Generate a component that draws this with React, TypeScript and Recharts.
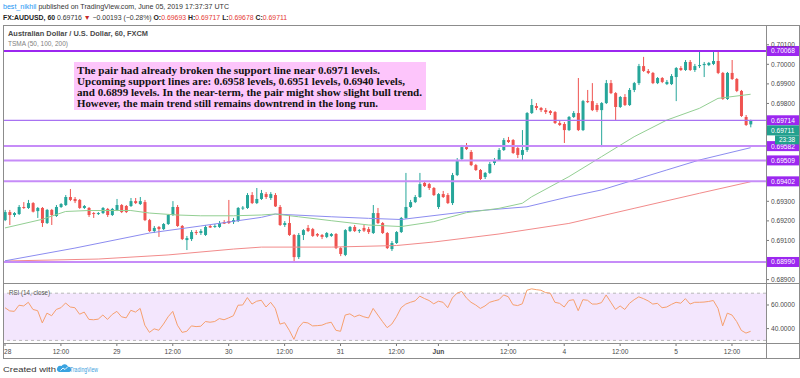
import React from "react";
import { ComposedChart, Bar, Line, XAxis, YAxis, ReferenceLine, ReferenceArea } from "recharts";

// hourly candles, 28 May 00:00 .. 5 Jun 16:00 (weekend gap removed)
const opens = [
  0.69204, 0.69245, 0.6923, 0.69235, 0.69271, 0.69266, 0.69291, 0.6925, 0.69266, 0.69189,
  0.69256, 0.69225, 0.69271, 0.69281, 0.69322, 0.69312, 0.69307, 0.69266, 0.69266, 0.6924,
  0.69235, 0.6924, 0.69261, 0.6923, 0.69256, 0.69281, 0.69276, 0.69276, 0.69301, 0.69286,
  0.69296, 0.69204, 0.69148, 0.69169, 0.69158, 0.69184, 0.6923, 0.69271, 0.69174, 0.69102,
  0.69107, 0.69143, 0.69138, 0.69128, 0.69174, 0.69169, 0.69169, 0.69194, 0.69199, 0.69194,
  0.69199, 0.69263, 0.69266, 0.69332, 0.69291, 0.69312, 0.69337, 0.69317, 0.69332, 0.69271,
  0.69179, 0.69189, 0.69128, 0.69015, 0.69128, 0.69164, 0.69158, 0.69133, 0.69128, 0.69118,
  0.69123, 0.69133, 0.69061, 0.69026, 0.69148, 0.69169, 0.69148, 0.69164, 0.69158, 0.69138,
  0.6924, 0.69189, 0.69138, 0.69056, 0.69087, 0.69143, 0.69215, 0.69271, 0.69296, 0.69322,
  0.69394, 0.69388, 0.69368, 0.69271, 0.69337, 0.69332, 0.69291, 0.69434, 0.69516, 0.69577,
  0.69552, 0.69485, 0.6946, 0.69424, 0.69445, 0.69496, 0.69511, 0.69562, 0.69613, 0.69613,
  0.69572, 0.69537, 0.69562, 0.69751, 0.69787, 0.69777, 0.69766, 0.69761, 0.69756, 0.697,
  0.69695, 0.69664, 0.69731, 0.69751, 0.69664, 0.69812, 0.69812, 0.69792, 0.69766, 0.69802,
  0.69904, 0.69853, 0.69782, 0.69833, 0.69792, 0.69869, 0.69904, 0.69991, 0.69966, 0.69956,
  0.69904, 0.6993, 0.69899, 0.69899, 0.69935, 0.69981, 0.69971, 0.70012, 0.69971, 0.69991,
  0.69996, 0.69996, 0.70002, 0.70017, 0.69956, 0.69823, 0.69956, 0.69925, 0.69864, 0.69731,
  0.69693,
];
const highs = [
  0.69256, 0.69256, 0.69245, 0.69281, 0.69296, 0.69307, 0.69296, 0.69271, 0.69271, 0.69261,
  0.69261, 0.69281, 0.69291, 0.69332, 0.69363, 0.69322, 0.69312, 0.69281, 0.69271, 0.69245,
  0.69245, 0.69271, 0.69266, 0.69266, 0.69312, 0.69286, 0.69281, 0.69317, 0.69317, 0.69322,
  0.69307, 0.6921, 0.69174, 0.69174, 0.69189, 0.69235, 0.69301, 0.69281, 0.69179, 0.69123,
  0.69153, 0.69153, 0.69158, 0.69179, 0.69179, 0.69184, 0.69199, 0.69204, 0.69307, 0.69215,
  0.69271, 0.69276, 0.69342, 0.69347, 0.69368, 0.69358, 0.69347, 0.69347, 0.69342, 0.69281,
  0.69199, 0.6923, 0.69133, 0.69138, 0.69158, 0.69179, 0.69164, 0.69138, 0.69133, 0.69143,
  0.69138, 0.69138, 0.69066, 0.69158, 0.69174, 0.69179, 0.69158, 0.69179, 0.69169, 0.69281,
  0.69266, 0.69194, 0.69143, 0.69097, 0.69148, 0.6922, 0.69445, 0.69307, 0.69332, 0.69445,
  0.69404, 0.69394, 0.69373, 0.69342, 0.69353, 0.69342, 0.69445, 0.69521, 0.69588, 0.69598,
  0.69562, 0.69491, 0.69465, 0.6945, 0.69501, 0.69521, 0.69572, 0.69623, 0.69629, 0.69618,
  0.69582, 0.69664, 0.69756, 0.69823, 0.69802, 0.69782, 0.69777, 0.69766, 0.69761, 0.69715,
  0.69705, 0.69736, 0.69761, 0.6993, 0.69818, 0.69869, 0.69904, 0.69802, 0.69807, 0.6992,
  0.6992, 0.69858, 0.69838, 0.69848, 0.69879, 0.6991, 0.70002, 0.70038, 0.69976, 0.69961,
  0.69935, 0.69935, 0.6992, 0.6995, 0.69986, 0.69991, 0.70022, 0.70022, 0.70002, 0.70068,
  0.70012, 0.70012, 0.70063, 0.70063, 0.69961, 0.69961, 0.70022, 0.6993, 0.69869, 0.69741,
  0.69717,
];
const lows = [
  0.69199, 0.69179, 0.6922, 0.6923, 0.69261, 0.69261, 0.69243, 0.69215, 0.69169, 0.69184,
  0.69179, 0.6922, 0.69266, 0.69276, 0.69301, 0.69291, 0.69261, 0.69261, 0.6922, 0.69215,
  0.6923, 0.69235, 0.6922, 0.69225, 0.6925, 0.6924, 0.6924, 0.69271, 0.69286, 0.69281,
  0.69199, 0.69143, 0.69138, 0.69118, 0.69153, 0.69179, 0.69225, 0.69169, 0.69102, 0.69051,
  0.69097, 0.69128, 0.69128, 0.69123, 0.69164, 0.69164, 0.69164, 0.69184, 0.69184, 0.69184,
  0.69194, 0.69256, 0.69261, 0.69286, 0.69286, 0.69307, 0.69312, 0.69307, 0.69271, 0.69174,
  0.69169, 0.69123, 0.68995, 0.69005, 0.69102, 0.69143, 0.69118, 0.69118, 0.69107, 0.69112,
  0.69118, 0.69056, 0.6902, 0.6902, 0.69143, 0.69143, 0.69138, 0.69143, 0.69133, 0.69133,
  0.69184, 0.69133, 0.69056, 0.69046, 0.69082, 0.69138, 0.6921, 0.69266, 0.69291, 0.69317,
  0.69373, 0.69358, 0.69327, 0.69261, 0.69317, 0.69286, 0.69281, 0.69429, 0.69511, 0.69562,
  0.6948, 0.69455, 0.69409, 0.69414, 0.6944, 0.69485, 0.69506, 0.69557, 0.69598, 0.69542,
  0.69521, 0.69511, 0.69552, 0.69746, 0.69766, 0.69756, 0.69746, 0.69741, 0.69695, 0.69685,
  0.69598, 0.69659, 0.69726, 0.69659, 0.69659, 0.69802, 0.69761, 0.69756, 0.69577, 0.69797,
  0.69848, 0.69715, 0.69777, 0.69787, 0.69787, 0.69858, 0.69894, 0.69961, 0.6995, 0.69899,
  0.69899, 0.69904, 0.69894, 0.69894, 0.69812, 0.69966, 0.69966, 0.69966, 0.69961, 0.69981,
  0.69935, 0.69991, 0.69996, 0.6995, 0.69818, 0.69818, 0.6992, 0.69858, 0.69731, 0.69685,
  0.69678,
];
const closes = [
  0.69245, 0.6923, 0.6924, 0.69271, 0.69266, 0.69291, 0.69247, 0.69266, 0.69189, 0.69256,
  0.6923, 0.69271, 0.69286, 0.69322, 0.69307, 0.69301, 0.69266, 0.69276, 0.6923, 0.69235,
  0.6924, 0.69266, 0.6923, 0.69261, 0.69281, 0.69245, 0.69245, 0.69301, 0.69291, 0.69301,
  0.69204, 0.69148, 0.69164, 0.69158, 0.69184, 0.6923, 0.69271, 0.69174, 0.69107, 0.69112,
  0.69143, 0.69138, 0.69148, 0.69169, 0.69166, 0.69174, 0.69189, 0.69186, 0.69189, 0.69204,
  0.69266, 0.69268, 0.69332, 0.69291, 0.69312, 0.69342, 0.69322, 0.69337, 0.69274, 0.69179,
  0.69189, 0.69128, 0.69015, 0.69128, 0.69153, 0.69148, 0.69123, 0.69125, 0.69118, 0.69138,
  0.69133, 0.69061, 0.69031, 0.69153, 0.69169, 0.69148, 0.69153, 0.6915, 0.69143, 0.6924,
  0.69189, 0.69138, 0.69061, 0.69087, 0.69143, 0.69215, 0.69271, 0.69296, 0.69322, 0.69388,
  0.69378, 0.69368, 0.69332, 0.69337, 0.69322, 0.69291, 0.69434, 0.69511, 0.69577, 0.69567,
  0.69485, 0.6946, 0.69414, 0.69445, 0.69491, 0.69511, 0.69562, 0.69613, 0.69603, 0.69547,
  0.69537, 0.69562, 0.69751, 0.69792, 0.69777, 0.69766, 0.69756, 0.69751, 0.697, 0.6969,
  0.69664, 0.69731, 0.69751, 0.69664, 0.69812, 0.69807, 0.69766, 0.69766, 0.69802, 0.69904,
  0.69853, 0.69782, 0.69833, 0.69792, 0.69869, 0.69904, 0.69991, 0.69966, 0.69956, 0.69904,
  0.6993, 0.6991, 0.6991, 0.6994, 0.69981, 0.69971, 0.70012, 0.69971, 0.69991, 0.69996,
  0.70002, 0.70007, 0.70017, 0.69956, 0.69823, 0.69956, 0.69925, 0.69864, 0.69736, 0.6969,
  0.69711,
];

// moving averages read at a few candles: [candle index, value]
const sma50Pts = [
  [0, 0.69164], [8, 0.69208], [13, 0.69248], [18, 0.69253], [27, 0.69253], [31, 0.6924],
  [37, 0.6923], [42, 0.69226], [49, 0.69226], [55, 0.6923], [58, 0.69235], [63, 0.69221],
  [70, 0.69201], [78, 0.69179], [85, 0.69171], [92, 0.69196], [99, 0.69242], [106, 0.69264],
  [111, 0.6929], [113, 0.69323], [121, 0.69426], [128, 0.69528], [135, 0.6963], [142, 0.69715],
  [149, 0.69775], [153, 0.69826], [160, 0.69847],
];
const sma100Pts = [
  [0, 0.68996], [15, 0.69061], [31, 0.69138], [42, 0.69174], [55, 0.69218], [58, 0.69235],
  [70, 0.69221], [78, 0.69213], [85, 0.69207], [99, 0.69247], [112, 0.69272], [121, 0.69323],
  [128, 0.69358], [135, 0.69409], [142, 0.6946], [149, 0.69511], [160, 0.69574],
];
const sma200Pts = [
  [0, 0.68995], [20, 0.69005], [35, 0.69026], [49, 0.69056], [55, 0.69066], [70, 0.69066],
  [84, 0.69074], [92, 0.69092], [106, 0.69133], [121, 0.69187], [135, 0.69264], [149, 0.69341],
  [160, 0.694],
];

const rsiValues = [
  57.7, 55, 54.6, 59.8, 59.2, 62.3, 56.2, 55.2, 44.8, 53.1,
  50.9, 56.2, 57.7, 61.7, 58.3, 57.7, 52.2, 54, 47.8, 47.5,
  48, 51.5, 47.8, 52, 54.6, 50, 49.1, 55.5, 54, 57.1,
  42.9, 36.8, 39.8, 38.6, 43.8, 50, 54.6, 42.9, 36.8, 37.7,
  42.3, 41.7, 42, 46, 45.4, 46, 48.5, 47.5, 49.1, 50.9,
  59.8, 60, 66.3, 60.8, 63.2, 64, 58.3, 62.3, 57.1, 43.8,
  45, 38.6, 30.9, 40.8, 45.4, 44.8, 42.3, 42.5, 42.9, 44.5,
  45.4, 38.6, 37.7, 51.5, 52.5, 50, 51.5, 50, 49, 57.1,
  51.5, 46, 40.8, 43.8, 50, 57.7, 60.8, 62.3, 63.5, 67.5,
  65.5, 63.8, 61, 63.2, 62.3, 57.7, 66, 70, 71.5, 66,
  62.3, 60, 57.1, 59.2, 62.3, 63.5, 64.5, 68.5, 67, 60.2,
  59.5, 61, 72.5, 73.7, 73, 72.5, 70.5, 70, 62.3, 61.4,
  58.3, 63.8, 64.5, 55.2, 64.5, 64, 60.8, 60.8, 62, 68.5,
  62.3, 56.2, 59.2, 56.2, 61.4, 64.5, 66.9, 65.4, 63.5, 60.8,
  61.4, 57.7, 58.3, 60.5, 62.3, 61.5, 65.4, 60.8, 62.3, 62.3,
  62.5, 63, 63.8, 57.1, 42.3, 53.1, 51.5, 46, 38.5, 36.2,
  37.7,
];

const timeTickIdx = [0, 12, 24, 36, 48, 60, 72, 84, 93, 108, 120, 132, 144, 156];
const timeTickLabels = ["28", "12:00", "29", "12:00", "30", "12:00", "31", "12:00", "Jun", "12:00", "4", "12:00", "5", "12:00"];
const priceTicks = [0.702, 0.701, 0.7, 0.699, 0.698, 0.693, 0.692, 0.691, 0.689];
const supportLevels = [0.70068, 0.69714, 0.69582, 0.69509, 0.69402, 0.6899];
const lastPrice = 0.69711;
const rsiTicks = [40, 60];

const GREEN = "#26a69a";
const RED = "#ef5350";
const PURPLE = "#9c27f0";
const GRID = "#8c8c8c";
const FONT = "'Liberation Sans', Arial, sans-serif";
const X_DOMAIN: [number, number] = [-0.43, 163.3];

const toMap = (pts: number[][]) => new Map(pts.map(([i, v]) => [i, v]));
const m50 = toMap(sma50Pts);
const m100 = toMap(sma100Pts);
const m200 = toMap(sma200Pts);

const rows = opens.map((o, i) => ({
  i,
  o,
  h: highs[i],
  l: lows[i],
  c: closes[i],
  s50: m50.get(i) ?? null,
  s100: m100.get(i) ?? null,
  s200: m200.get(i) ?? null,
}));
const rsiRows = rsiValues.map((v, i) => ({ i, rsi: v }));

function Candle(props: any) {
  const { x, width, payload } = props;
  let { y, height } = props;
  if (!payload || height == null) return null;
  if (height < 0) {
    y += height;
    height = -height;
  }
  const { o, h, l, c } = payload;
  const k = height / (h - l);
  const cx = x + width / 2;
  const yO = y + (h - o) * k;
  const yC = y + (h - c) * k;
  const color = c >= o ? GREEN : RED;
  return (
    <g>
      <line x1={cx} x2={cx} y1={y} y2={y + height} stroke={color} strokeWidth={1} />
      <rect x={x} y={Math.min(yO, yC)} width={width} height={Math.max(1, Math.abs(yO - yC))} fill={color} />
    </g>
  );
}

function LevelTag(props: any) {
  const { viewBox, text, fill, shift = 0, extra } = props;
  if (!viewBox) return null;
  const x = viewBox.x + viewBox.width;
  const y = viewBox.y + shift;
  return (
    <g>
      <rect x={x} y={y - 5} width={34} height={10} fill={fill} />
      <text x={x + 5} y={y + 2.4} fontSize={6.6} fill="#fff" fontFamily={FONT}>
        {text}
      </text>
      {extra && (
        <g>
          <rect x={x + 9} y={y + 5} width={25} height={9} fill={fill} />
          <text x={x + 13} y={y + 12} fontSize={6.4} fill="#fff" fontFamily={FONT}>
            {extra}
          </text>
        </g>
      )}
    </g>
  );
}

function TimeTick(props: any) {
  const { x, y, payload } = props;
  const k = timeTickIdx.indexOf(payload.value);
  const label = timeTickLabels[k] ?? "";
  return (
    <text
      x={k === 0 ? x - 1 : x}
      y={y + 7}
      textAnchor={k === 0 ? "start" : "middle"}
      fontSize={6.6}
      fill="#4a4a4a"
      fontFamily={FONT}
      fontWeight={label === "Jun" ? "bold" : "normal"}
    >
      {label}
    </text>
  );
}

const axisTick = { fontSize: 6.6, fill: "#4a4a4a", fontFamily: FONT };

export default function App() {
  return (
    <div style={{ position: "absolute", left: 0, top: 0, width: 800, height: 378, background: "#fff", overflow: "hidden" }}>
      <div style={{ position: "absolute", left: 3, top: 25 }}>
        <ComposedChart width={797} height={258} data={rows} margin={{ top: 0, right: 0, bottom: 0, left: 0 }}>
          <XAxis dataKey="i" type="number" domain={X_DOMAIN} allowDataOverflow hide />
          <YAxis
            orientation="right"
            width={34}
            domain={[0.688826, 0.702009]}
            allowDataOverflow
            ticks={priceTicks}
            tickFormatter={(v: number) => v.toFixed(5)}
            tick={axisTick}
            tickSize={3}
            tickMargin={2}
            axisLine={false}
            tickLine={{ stroke: "#777" }}
          />
          <Line dataKey="s200" stroke="#f28b8b" strokeWidth={1} dot={false} connectNulls isAnimationActive={false} />
          <Line dataKey="s100" stroke="#8c8cf0" strokeWidth={1} dot={false} connectNulls isAnimationActive={false} />
          <Line dataKey="s50" stroke="#93cf93" strokeWidth={1} dot={false} connectNulls isAnimationActive={false} />
          <Bar dataKey={(d: any) => [d.l, d.h]} barSize={3} shape={<Candle />} isAnimationActive={false} />
          {supportLevels.map((v, k) => (
            <ReferenceLine
              key={v}
              y={v}
              stroke={k === 0 ? PURPLE : k === 1 ? "#a873f2" : "#c68cf8"}
              strokeWidth={k === 1 ? 1.2 : 2}
              label={<LevelTag text={v.toFixed(5)} fill={PURPLE} />}
            />
          ))}
          <ReferenceLine
            y={lastPrice}
            stroke="none"
            label={<LevelTag text={lastPrice.toFixed(5)} fill="#22a08e" shift={9.5} extra="23:38" />}
          />
        </ComposedChart>
      </div>

      <div style={{ position: "absolute", left: 3, top: 283 }}>
        <ComposedChart width={797} height={75} data={rsiRows} margin={{ top: 0, right: 0, bottom: 0, left: 0 }}>
          <XAxis
            dataKey="i"
            type="number"
            domain={X_DOMAIN}
            allowDataOverflow
            ticks={timeTickIdx}
            interval={0}
            tick={<TimeTick />}
            height={15}
            tickSize={3}
            tickMargin={1}
            axisLine={false}
            tickLine={{ stroke: "#777" }}
          />
          <YAxis
            orientation="right"
            width={34}
            domain={[27.8, 78.64]}
            allowDataOverflow
            ticks={rsiTicks}
            tickFormatter={(v: number) => v.toFixed(4)}
            tick={axisTick}
            tickSize={3}
            tickMargin={2}
            axisLine={false}
            tickLine={{ stroke: "#777" }}
          />
          <ReferenceArea y1={30} y2={70} fill="#f3e6fd" fillOpacity={1} stroke="none" />
          <ReferenceLine y={70} stroke="#b9b9b9" strokeDasharray="3 3" />
          <ReferenceLine y={30} stroke="#b9b9b9" strokeDasharray="3 3" />
          <Line dataKey="rsi" stroke="#f6a06e" strokeWidth={1} dot={false} isAnimationActive={false} />
        </ComposedChart>
      </div>

      <svg width={800} height={378} style={{ position: "absolute", left: 0, top: 0, pointerEvents: "none" }} fontFamily={FONT}>
        {/* frame */}
        <line x1={3} x2={800} y1={25.5} y2={25.5} stroke={GRID} />
        <line x1={3} x2={800} y1={283.5} y2={283.5} stroke={GRID} />
        <line x1={3} x2={800} y1={343.5} y2={343.5} stroke={GRID} />
        <line x1={3} x2={800} y1={358.5} y2={358.5} stroke={GRID} />
        <line x1={3.5} x2={3.5} y1={25} y2={359} stroke={GRID} />
        <line x1={766.5} x2={766.5} y1={25} y2={359} stroke={GRID} />
        <line x1={799.5} x2={799.5} y1={25} y2={359} stroke={GRID} />

        {/* header */}
        <text x={3} y={9} fontSize={7.4} fill="#333" textLength={226} lengthAdjust="spacingAndGlyphs">
          <tspan fill="#2196f3">best_nikhil</tspan> published on TradingView.com, June 05, 2019 17:37:37 UTC
        </text>
        <text x={3} y={19.5} fontSize={6.9} fill="#333">
          <tspan fontWeight="bold" fill="#222">FX:AUDUSD, 60</tspan> 0.69716 <tspan fill="#c62828">▼</tspan> −0.00193 (−0.28%){" "}
          <tspan fontWeight="bold" fill="#222">O:</tspan><tspan fill="#e53935">0.69693</tspan>{" "}
          <tspan fontWeight="bold" fill="#222">H:</tspan><tspan fill="#e53935">0.69717</tspan>{" "}
          <tspan fontWeight="bold" fill="#222">L:</tspan><tspan fill="#e53935">0.69678</tspan>{" "}
          <tspan fontWeight="bold" fill="#222">C:</tspan><tspan fill="#e53935">0.69711</tspan>
        </text>

        <text x={8} y={36} fontSize={7.6} fontWeight="bold" fill="#4a4a4a" textLength={140} lengthAdjust="spacingAndGlyphs">
          Australian Dollar / U.S. Dollar, 60, FXCM
        </text>
        <text x={8} y={46} fontSize={7.2} fill="#808080" textLength={60} lengthAdjust="spacingAndGlyphs">
          TSMA (50, 100, 200)
        </text>

        {/* annotation */}
        <rect x={74} y={62} width={352} height={48} fill="#fdc5fb" />
        <g fontFamily="'Liberation Serif', 'Times New Roman', serif" fontWeight="bold" fontSize={10.5} fill="#111">
          <text x={77} y={74} textLength={303} lengthAdjust="spacingAndGlyphs">
            The pair had already broken the support line near 0.6971 levels.
          </text>
          <text x={77} y={85} textLength={328} lengthAdjust="spacingAndGlyphs">
            Upcoming support lines are: 0.6958 levels, 0.6951 levels, 0.6940 levels,
          </text>
          <text x={77} y={96} textLength={345} lengthAdjust="spacingAndGlyphs">
            and 0.6899 levels. In the near-term, the pair might show slight bull trend.
          </text>
          <text x={77} y={106.5} textLength={301} lengthAdjust="spacingAndGlyphs">
            However, the main trend still remains downtrend in the long run.
          </text>
        </g>

        <text x={9} y={295} fontSize={7} fill="#555" textLength={41} lengthAdjust="spacingAndGlyphs">
          RSI (14, close)
        </text>

        {/* footer */}
        <text x={3} y={371.5} fontSize={7.6} fill="#333" textLength={53} lengthAdjust="spacingAndGlyphs">
          Created with
        </text>
        <path d="M59 372 L69 372 A2.6 2.6 0 0 0 68 366.8 A3.6 3.6 0 0 0 61.5 366 A3 3 0 0 0 59 372 Z" fill="#3aa3e0" />
        <path d="M60.5 370.5 L63 368 L65 369.5 L67.5 367" stroke="#fff" strokeWidth={0.9} fill="none" />
        <text x={70} y={371.5} fontSize={7.6} fill="#3ba0dd" textLength={28} lengthAdjust="spacingAndGlyphs">
          TradingView
        </text>
      </svg>
    </div>
  );
}
